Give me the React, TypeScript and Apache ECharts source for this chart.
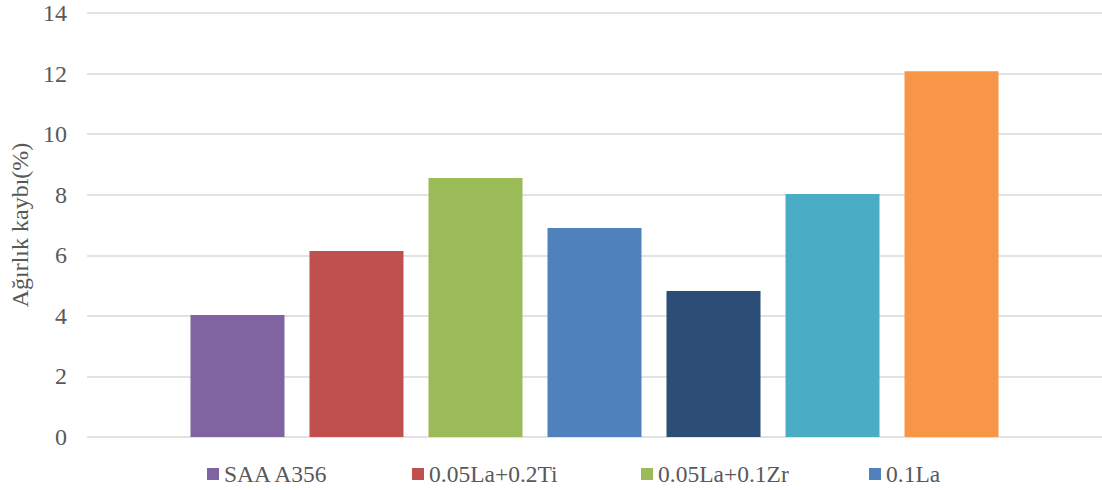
import React, { useEffect, useRef } from "react";
import * as echarts from "echarts";

const seriesNames = ["SAA A356", "0.05La+0.2Ti", "0.05La+0.1Zr", "0.1La", "Seri 5", "Seri 6", "Seri 7"];
const values = [4.03, 6.14, 8.55, 6.9, 4.82, 8.02, 12.08];
const colors = ["#8064A2", "#C0504D", "#9BBB59", "#4F81BD", "#2C4D75", "#4BACC6", "#F79646"];
const legendNames = ["SAA A356", "0.05La+0.2Ti", "0.05La+0.1Zr", "0.1La"];
const legendLeft = [207, 412, 641, 869];
const yAxisName = "Ağırlık kaybı(%)";

export default function App() {
  const ref = useRef<HTMLDivElement>(null);
  useEffect(() => {
    document.body.style.margin = "0";
    const chart = echarts.init(ref.current!, null, { renderer: "svg" });
    const font = "Times New Roman";
    chart.setOption({
      animation: false,
      textStyle: { fontFamily: font },
      grid: { left: 87, right: 0, top: 13, bottom: 53, containLabel: false },
      legend: legendNames.map((n, i) => ({
        data: [n],
        left: legendLeft[i],
        top: 462,
        padding: 0,
        icon: "rect",
        itemWidth: 12,
        itemHeight: 12,
        itemGap: 4,
        textStyle: { fontFamily: font, fontSize: 23.5, color: "#595959", lineHeight: 24 },
      })),
      xAxis: {
        type: "category",
        data: [""],
        axisLine: { show: false },
        axisTick: { show: false },
        axisLabel: { show: false },
      },
      yAxis: {
        type: "value",
        min: 0,
        max: 14,
        interval: 2,
        name: yAxisName,
        nameLocation: "middle",
        nameGap: 52,
        nameTextStyle: { fontFamily: font, fontSize: 24, color: "#595959" },
        axisLine: { show: false },
        axisTick: { show: false },
        axisLabel: { fontFamily: font, fontSize: 24, color: "#595959", margin: 20 },
        splitLine: { lineStyle: { color: "#d9d9d9", width: 1.5 } },
      },
      series: seriesNames.map((n, i) => ({
        name: n,
        type: "bar",
        data: [values[i]],
        barWidth: 94,
        barGap: "26.6%",
        itemStyle: { color: colors[i] },
      })),
    });
    return () => chart.dispose();
  }, []);
  return <div ref={ref} style={{ width: 1102, height: 490 }} />;
}
